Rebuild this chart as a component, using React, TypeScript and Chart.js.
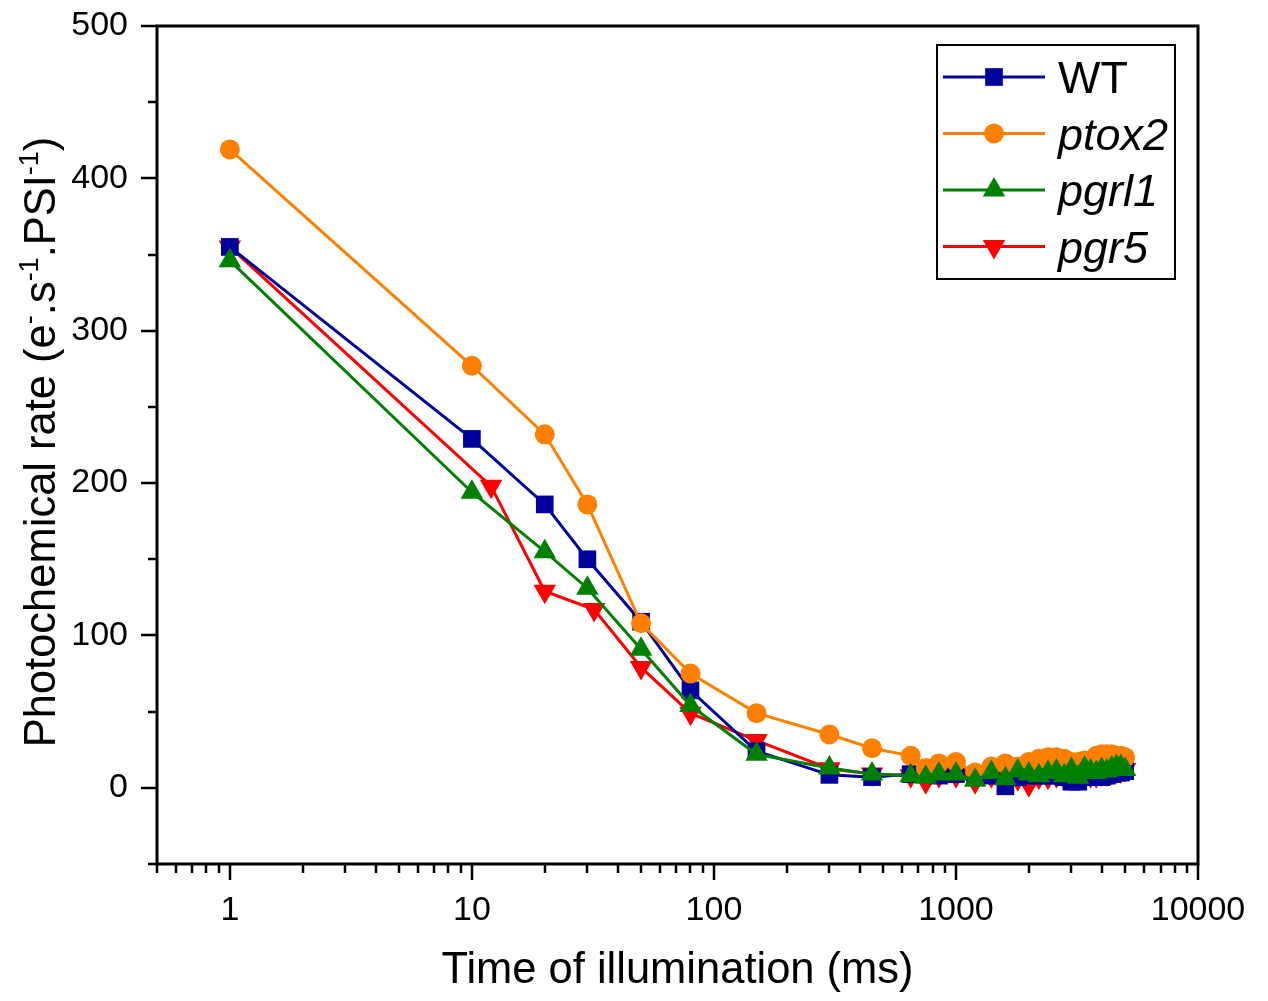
import React, { useEffect, useRef } from 'react';
import { Chart, registerables } from 'chart.js';

Chart.register(...registerables);

const FONT = "'Liberation Sans', Arial, Helvetica, sans-serif";

// ---- data ----
const seriesNames = ['WT', 'ptox2', 'pgrl1', 'pgr5'];
const seriesItalic = [false, true, true, true];

const tailX = [650, 750, 850, 1000, 1200, 1400, 1600, 1800, 2000, 2200, 2400, 2600, 2800, 3000, 3200, 3400, 3600, 3800, 4000, 4200, 4400, 4600, 4800, 5000];

const wtX = [1, 10, 20, 30, 50, 80, 150, 300, 450, ...tailX];
const wtY = [355, 229, 186, 150, 109, 64, 24, 8.5, 7, 9, 9, 8, 9, 8, 8, 1, 7, 8, 8, 8, 8, 7, 4, 4, 7, 8, 7, 7, 8, 9, 10, 10, 11];

const ptox2X = [1, 10, 20, 30, 50, 80, 150, 300, 450, ...tailX];
const ptox2Y = [419, 277, 232, 186, 108, 75, 49, 35, 26, 21, 13, 16, 17, 10, 14, 16, 14, 17, 19, 20, 20, 19, 17, 17, 18, 18, 21, 22, 22, 22, 21, 21, 20];

const pgrl1X = [1, 10, 20, 30, 50, 80, 150, 300, 450, ...tailX];
const pgrl1Y = [346, 194, 155, 131, 91, 54, 22, 13, 9, 8, 7, 9, 9, 5, 10, 6, 11, 9, 8, 10, 11, 8, 12, 7, 13, 11, 10, 12, 11, 13, 14, 14, 12];

const pgr5X = [1, 12, 20, 32, 50, 80, 150, 300, 450, ...tailX];
const pgr5Y = [355, 198, 129, 117, 79, 49, 31, 12.5, 9, 8, 4, 8, 8, 4, 8, 8, 6, 2, 7, 7, 8, 7, 7, 7, 8, 8, 8, 9, 9, 10, 11, 11, 12];

const xTickValues = [1, 10, 100, 1000, 10000];
const yTickValues = [0, 100, 200, 300, 400, 500];
const yMinorValues = [-50, 50, 150, 250, 350, 450];
const xTitle = 'Time of illumination (ms)';
const yTitleParts = [
  { t: 'Photochemical rate (e', sup: false },
  { t: '-', sup: true },
  { t: '.s', sup: false },
  { t: '-1', sup: true },
  { t: '.PSI', sup: false },
  { t: '-1', sup: true },
  { t: ')', sup: false },
];

const COLORS = ['#00009C', '#FF8000', '#008000', '#FF0000'];
const STYLES: any[] = ['rect', 'circle', 'triangle', 'triangle'];
const ROTS = [0, 0, 0, 180];
const RADII = [12.5, 10, 13, 13];

const axesPlugin = {
  id: 'axesFrame',
  afterDatasetsDraw(chart: any) {
    const { ctx, chartArea: a } = chart;
    const xs = chart.scales.x;
    const ys = chart.scales.y;
    ctx.save();
    ctx.strokeStyle = '#000';
    ctx.lineWidth = 2.5;
    const minor: number[] = [];
    for (const d of [0.1, 1, 10, 100, 1000]) {
      for (let m = 2; m <= 9; m++) {
        const v = m * d;
        if (v >= 0.5 && v < 10000) minor.push(v);
      }
    }
    ctx.beginPath();
    for (const v of minor) {
      const px = Math.round(xs.getPixelForValue(v));
      ctx.moveTo(px, a.bottom);
      ctx.lineTo(px, a.bottom + 9);
    }
    for (const v of xTickValues) {
      const px = Math.round(xs.getPixelForValue(v));
      ctx.moveTo(px, a.bottom);
      ctx.lineTo(px, a.bottom + 16);
    }
    for (const v of yTickValues) {
      const py = Math.round(ys.getPixelForValue(v));
      ctx.moveTo(a.left, py);
      ctx.lineTo(a.left - 16, py);
    }
    for (const v of yMinorValues) {
      const py = Math.round(ys.getPixelForValue(v));
      ctx.moveTo(a.left, py);
      ctx.lineTo(a.left - 9, py);
    }
    ctx.stroke();
    ctx.lineWidth = 3;
    ctx.strokeRect(a.left, a.top, a.right - a.left, a.bottom - a.top);
    ctx.restore();
  },
};

function drawPointLocal(ctx: CanvasRenderingContext2D, style: string, r: number, rot: number, x: number, y: number, color: string) {
  ctx.save();
  ctx.fillStyle = color;
  ctx.beginPath();
  if (style === 'rect') {
    const s = Math.SQRT1_2 * r;
    ctx.rect(x - s, y - s, 2 * s, 2 * s);
  } else if (style === 'circle') {
    ctx.arc(x, y, r, 0, Math.PI * 2);
  } else {
    let rad = (rot * Math.PI) / 180;
    ctx.moveTo(x + Math.sin(rad) * r, y - Math.cos(rad) * r);
    rad += (2 * Math.PI) / 3;
    ctx.lineTo(x + Math.sin(rad) * r, y - Math.cos(rad) * r);
    rad += (2 * Math.PI) / 3;
    ctx.lineTo(x + Math.sin(rad) * r, y - Math.cos(rad) * r);
    ctx.closePath();
  }
  ctx.fill();
  ctx.restore();
}

const legendPlugin = {
  id: 'boxLegend',
  afterDraw(chart: any) {
    const { ctx } = chart;
    const left = 937, top = 45, right = 1175, bottom = 279;
    ctx.save();
    ctx.fillStyle = '#fff';
    ctx.fillRect(left, top, right - left, bottom - top);
    ctx.strokeStyle = '#000';
    ctx.lineWidth = 2;
    ctx.strokeRect(left, top, right - left, bottom - top);
    const rows = [77, 133.5, 190, 246.5];
    seriesNames.forEach((name, i) => {
      const y = rows[i];
      ctx.strokeStyle = COLORS[i];
      ctx.lineWidth = 3;
      ctx.beginPath();
      ctx.moveTo(943, y);
      ctx.lineTo(1045, y);
      ctx.stroke();
      drawPointLocal(ctx, STYLES[i], RADII[i], ROTS[i], 994, y, COLORS[i]);
      ctx.fillStyle = '#000';
      ctx.font = `${seriesItalic[i] ? 'italic ' : ''}45px ${FONT}`;
      ctx.textBaseline = 'alphabetic';
      ctx.textAlign = 'left';
      ctx.fillText(name, 1058, y + 16);
    });
    ctx.restore();
  },
};

const yTitlePlugin = {
  id: 'yTitle',
  afterDraw(chart: any) {
    const { ctx, chartArea: a } = chart;
    const big = 43.5;
    const small = 27;
    ctx.save();
    ctx.translate(55, (a.top + a.bottom) / 2 - 3);
    ctx.rotate(-Math.PI / 2);
    ctx.fillStyle = '#000';
    ctx.textBaseline = 'alphabetic';
    ctx.textAlign = 'left';
    let total = 0;
    for (const p of yTitleParts) {
      ctx.font = `${p.sup ? small : big}px ${FONT}`;
      total += ctx.measureText(p.t).width;
    }
    let x = -total / 2;
    for (const p of yTitleParts) {
      ctx.font = `${p.sup ? small : big}px ${FONT}`;
      ctx.fillText(p.t, x, p.sup ? -17 : 0);
      x += ctx.measureText(p.t).width;
    }
    ctx.restore();
  },
};

export default function App() {
  const ref = useRef<HTMLCanvasElement>(null);
  useEffect(() => {
    const canvas = ref.current!;
    const mk = (xs: number[], ys: number[]) => xs.map((x, i) => ({ x, y: ys[i] }));
    const allX = [wtX, ptox2X, pgrl1X, pgr5X];
    const allY = [wtY, ptox2Y, pgrl1Y, pgr5Y];
    const orders = [2, 1, 0, 3];
    const datasets = seriesNames.map((name, i) => ({
      label: name,
      data: mk(allX[i], allY[i]),
      borderColor: COLORS[i],
      backgroundColor: COLORS[i],
      pointBackgroundColor: COLORS[i],
      pointBorderColor: COLORS[i],
      pointBorderWidth: 0,
      pointStyle: STYLES[i],
      pointRotation: ROTS[i],
      pointRadius: RADII[i],
      borderWidth: 3,
      tension: 0,
      fill: false,
      order: orders[i],
    }));
    const chart = new Chart(canvas, {
      type: 'line',
      data: { datasets } as any,
      options: {
        responsive: false,
        animation: false,
        layout: { padding: { top: 26, right: 70, left: 0, bottom: 0 } },
        plugins: { legend: { display: false }, tooltip: { enabled: false } },
        scales: {
          x: {
            type: 'logarithmic',
            min: 0.5,
            max: 10000,
            afterBuildTicks: (s: any) => {
              s.ticks = xTickValues.map((v) => ({ value: v }));
            },
            afterFit: (s: any) => {
              s.height = 137;
              s.paddingLeft = 0;
              s.paddingRight = 0;
              s.paddingTop = 0;
              s.paddingBottom = 0;
            },
            grid: { display: false, drawTicks: false },
            border: { display: false },
            ticks: {
              callback: (v: any) => String(v),
              font: { family: FONT, size: 34 },
              color: '#000',
              padding: 26,
              autoSkip: false,
              maxRotation: 0,
            },
            title: {
              display: true,
              text: xTitle,
              font: { family: FONT, size: 43.5 },
              color: '#000',
              padding: { top: 0, bottom: 4 },
            },
          },
          y: {
            type: 'linear',
            min: -50,
            max: 500,
            afterBuildTicks: (s: any) => {
              s.ticks = yTickValues.map((v) => ({ value: v }));
            },
            afterFit: (s: any) => {
              s.width = 157;
              s.paddingLeft = 0;
              s.paddingRight = 0;
              s.paddingTop = 0;
              s.paddingBottom = 0;
            },
            grid: { display: false, drawTicks: false },
            border: { display: false },
            ticks: {
              callback: (v: any) => String(v),
              font: { family: FONT, size: 34 },
              color: '#000',
              padding: 29,
            },
          },
        },
      } as any,
      plugins: [axesPlugin, legendPlugin, yTitlePlugin],
    });
    return () => chart.destroy();
  }, []);
  return (
    <div style={{ position: 'absolute', left: 0, top: 0, width: 1268, height: 1001, background: '#fff' }}>
      <canvas ref={ref} width={1268} height={1001} style={{ display: 'block' }} />
    </div>
  );
}
